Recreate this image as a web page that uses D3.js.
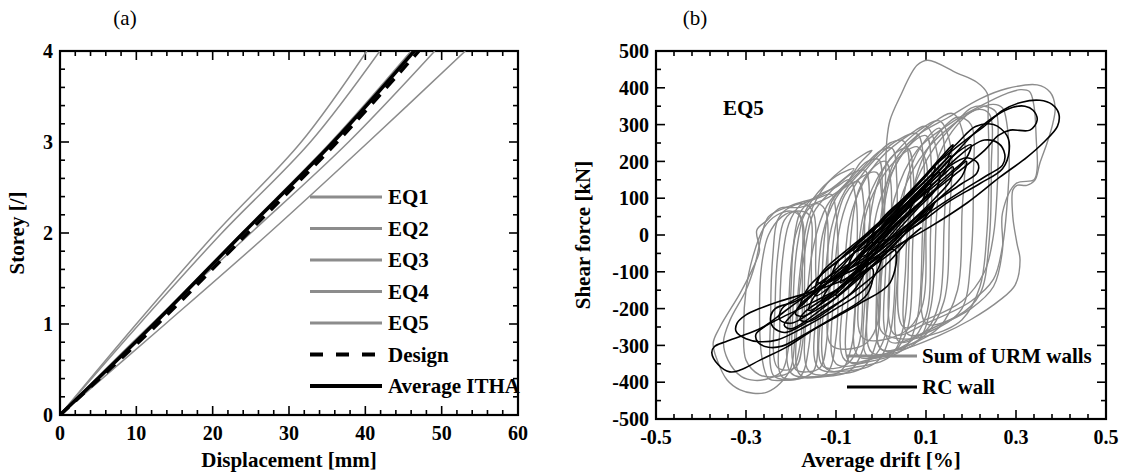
<!DOCTYPE html>
<html><head><meta charset="utf-8">
<script src="https://cdn.jsdelivr.net/npm/d3@7"></script>
<style>
body{margin:0;background:#fff}
svg{display:block}
text{font-family:"Liberation Serif","Times New Roman",serif;font-size:20px;font-weight:bold;fill:#000}
text.big{font-size:21px}
</style></head><body>
<svg id="c" width="1124" height="475"></svg>
<script>
// ---------- Panel (a) data ----------
const storeys = [0, 1, 2, 3, 4];
const eq1 = [0, 10.0, 20.4, 31.6, 40.2];
const eq2 = [0, 10.4, 21.2, 32.8, 41.9];
const eq3 = [0, 12.1, 23.8, 35.5, 46.0];
const eq4 = [0, 12.0, 25.0, 37.8, 49.1];
const eq5 = [0, 13.8, 27.4, 40.4, 53.1];
const design = [0, 12.8, 24.6, 36.3, 47.0];
const averageItha = [0, 12.3, 24.0, 35.8, 46.4];
const legendA = ["EQ1", "EQ2", "EQ3", "EQ4", "EQ5", "Design", "Average ITHA"];
const xTicksA = [0, 10, 20, 30, 40, 50, 60];
const yTicksA = [0, 1, 2, 3, 4];

// ---------- Panel (b) data: [drift %, shear kN] ----------
const urmOuterLeft = [[-0.02,230],[-0.047,195],[-0.062,167],[-0.084,130],[-0.129,95],[-0.18,75],[-0.224,73],[-0.253,40],[-0.276,13],[-0.27,-42],[-0.284,-88],[-0.313,-158],[-0.358,-250],[-0.373,-294],[-0.364,-340],[-0.342,-394],[-0.313,-421],[-0.284,-430],[-0.253,-427],[-0.224,-403],[-0.2,-360],[-0.19,-250],[-0.18,-100],[-0.16,50],[-0.12,140],[-0.05,210]];
const urmLeft2 = [[-0.06,180],[-0.13,110],[-0.2,80],[-0.25,50],[-0.265,0],[-0.28,-80],[-0.3,-150],[-0.335,-230],[-0.35,-290],[-0.34,-340],[-0.31,-385],[-0.28,-395],[-0.25,-390],[-0.22,-370],[-0.205,-300],[-0.2,-150],[-0.19,0],[-0.15,100],[-0.1,160]];
const urmLeft3 = [[-0.27,-380],[-0.3,-340],[-0.305,-250],[-0.3,-150],[-0.285,-60],[-0.26,20],[-0.23,55],[-0.2,65],[-0.18,50],[-0.175,-100],[-0.18,-300],[-0.2,-370],[-0.24,-385]];
const urmLeft4 = [[-0.25,-390],[-0.265,-330],[-0.27,-200],[-0.265,-80],[-0.25,0],[-0.22,50],[-0.19,65],[-0.16,55],[-0.155,-80],[-0.16,-300],[-0.18,-385],[-0.22,-395]];
const urmTall1 = [[-0.24,-380],[-0.245,-200],[-0.24,-50],[-0.23,40],[-0.21,70],[-0.17,85],[-0.15,60],[-0.145,-100],[-0.14,-250],[-0.15,-370],[-0.18,-390],[-0.22,-392]];
const urmTall2 = [[-0.22,-385],[-0.225,-250],[-0.22,-80],[-0.205,30],[-0.18,80],[-0.14,100],[-0.11,110],[-0.1,60],[-0.095,-100],[-0.1,-280],[-0.12,-375],[-0.17,-388]];
const urmTall3 = [[-0.2,-375],[-0.205,-200],[-0.195,-30],[-0.18,60],[-0.15,100],[-0.1,130],[-0.07,150],[-0.055,90],[-0.055,-100],[-0.065,-300],[-0.09,-370],[-0.15,-385]];
const urmTall4 = [[-0.18,-380],[-0.185,-220],[-0.17,-50],[-0.15,60],[-0.11,120],[-0.06,170],[-0.035,175],[-0.025,80],[-0.03,-120],[-0.04,-310],[-0.07,-370],[-0.13,-385]];
const urmTall5 = [[-0.16,-370],[-0.165,-200],[-0.15,-30],[-0.12,80],[-0.07,150],[-0.03,200],[-0.005,205],[0.003,120],[0.0,-80],[-0.01,-290],[-0.04,-360],[-0.1,-378]];
const urmTall6 = [[-0.14,-360],[-0.142,-180],[-0.13,0],[-0.1,100],[-0.05,170],[0.0,230],[0.025,235],[0.035,150],[0.033,-50],[0.02,-270],[-0.01,-345],[-0.08,-370]];
const urmTall7 = [[-0.12,-365],[-0.125,-150],[-0.11,20],[-0.08,120],[-0.03,190],[0.02,250],[0.05,255],[0.065,170],[0.062,-30],[0.05,-250],[0.02,-330],[-0.06,-360]];
const urmTall8 = [[-0.1,-350],[-0.105,-160],[-0.09,30],[-0.06,130],[-0.01,210],[0.04,260],[0.08,275],[0.095,200],[0.092,0],[0.08,-230],[0.05,-310],[-0.03,-345]];
const urmTall9 = [[-0.08,-340],[-0.082,-140],[-0.07,40],[-0.04,140],[0.0,210],[0.06,270],[0.1,295],[0.125,220],[0.122,20],[0.11,-200],[0.08,-290],[0.0,-330]];
const urmTall10 = [[-0.05,-330],[-0.055,-150],[-0.04,50],[-0.01,150],[0.03,220],[0.08,280],[0.13,310],[0.155,240],[0.152,50],[0.14,-180],[0.1,-270],[0.03,-315]];
const urmTall11 = [[-0.02,-320],[-0.025,-120],[-0.01,60],[0.02,160],[0.06,240],[0.11,300],[0.16,330],[0.185,260],[0.18,60],[0.17,-150],[0.13,-250],[0.06,-300]];
const urmTall12 = [[-0.19,-365],[-0.195,-180],[-0.185,-20],[-0.17,55],[-0.145,85],[-0.125,70],[-0.118,-80],[-0.12,-280],[-0.135,-360],[-0.165,-372]];
const urmTall13 = [[-0.13,-355],[-0.132,-180],[-0.125,0],[-0.11,90],[-0.08,130],[-0.05,145],[-0.038,80],[-0.04,-120],[-0.05,-300],[-0.08,-355]];
const urmTall14 = [[-0.07,-345],[-0.072,-150],[-0.065,20],[-0.05,120],[-0.02,180],[0.01,200],[0.022,140],[0.02,-60],[0.01,-270],[-0.02,-335]];
const urmTall15 = [[-0.03,-330],[-0.033,-130],[-0.025,40],[-0.005,150],[0.03,220],[0.06,235],[0.072,160],[0.07,-40],[0.06,-250],[0.03,-315]];
const urmTall16 = [[0.0,-310],[-0.003,-100],[0.005,60],[0.025,170],[0.06,240],[0.1,270],[0.112,190],[0.11,0],[0.1,-220],[0.06,-295]];
const urmTall17 = [[0.04,-290],[0.037,-100],[0.045,60],[0.065,180],[0.1,260],[0.13,290],[0.143,210],[0.14,20],[0.13,-180],[0.1,-260]];
const urmTall18 = [[-0.23,-360],[-0.235,-180],[-0.228,-40],[-0.215,40],[-0.19,65],[-0.175,40],[-0.17,-120],[-0.175,-300],[-0.19,-360]];
const urmTall19 = [[-0.11,-300],[-0.112,-120],[-0.1,30],[-0.08,110],[-0.04,160],[-0.01,170],[0.002,100],[0.0,-80],[-0.01,-250],[-0.04,-300]];
const urmTall20 = [[-0.04,-280],[-0.045,-100],[-0.035,50],[-0.01,130],[0.03,200],[0.08,240],[0.1,200],[0.1,20],[0.09,-200],[0.05,-265]];
const urmTall21 = [[0.06,-270],[0.055,-80],[0.065,80],[0.09,200],[0.13,280],[0.17,320],[0.2,300],[0.205,150],[0.2,-60],[0.18,-200],[0.13,-250]];
const urmTall22 = [[0.1,-240],[0.095,-60],[0.105,100],[0.13,220],[0.17,300],[0.21,340],[0.24,330],[0.245,180],[0.24,-20],[0.22,-160],[0.17,-220]];
const urmPeak = [[0.0,-260],[0.005,-50],[0.01,150],[0.013,258],[0.02,312],[0.042,375],[0.08,461],[0.104,475],[0.169,440],[0.213,415],[0.236,385],[0.238,320],[0.24,180],[0.235,0],[0.22,-140],[0.18,-230],[0.1,-275],[0.03,-280]];
const urmRightOuter = [[0.0,-310],[-0.01,-150],[0.0,50],[0.03,200],[0.08,270],[0.15,320],[0.22,370],[0.28,398],[0.347,408],[0.376,388],[0.387,347],[0.382,304],[0.369,250],[0.353,195],[0.342,149],[0.324,135],[0.302,135],[0.293,122],[0.293,49],[0.302,-22],[0.309,-68],[0.298,-136],[0.264,-177],[0.198,-231],[0.131,-272],[0.042,-312]];
const urmRight2 = [[0.02,-290],[0.01,-100],[0.03,100],[0.08,230],[0.15,300],[0.22,350],[0.28,385],[0.31,395],[0.33,390],[0.34,350],[0.345,260],[0.347,180],[0.34,150],[0.3,140],[0.27,60],[0.27,-40],[0.25,-140],[0.2,-200],[0.12,-250]];
const urmRight3 = [[0.03,-270],[0.02,-80],[0.05,120],[0.1,230],[0.16,300],[0.21,340],[0.25,355],[0.27,345],[0.28,300],[0.285,200],[0.28,80],[0.27,-30],[0.25,-120],[0.2,-180],[0.1,-240]];
const urmRight4 = [[0.05,-250],[0.04,-60],[0.07,120],[0.12,240],[0.17,310],[0.2,345],[0.23,350],[0.255,335],[0.26,250],[0.258,120],[0.25,0],[0.23,-100],[0.18,-180],[0.1,-230]];

const rcRight1 = [[-0.05,-90],[0.0,40],[0.06,110],[0.13,200],[0.19,260],[0.227,293],[0.271,339],[0.313,361],[0.353,366],[0.38,355],[0.395,330],[0.392,295],[0.36,250],[0.324,211],[0.264,157],[0.191,87],[0.109,22],[0.03,-33]];
const rcRight2 = [[-0.03,-60],[0.04,60],[0.1,140],[0.16,215],[0.21,280],[0.25,320],[0.293,347],[0.32,350],[0.338,339],[0.347,312],[0.331,285],[0.287,285],[0.26,270],[0.23,230],[0.17,170],[0.1,100],[0.03,20]];
const rcRight3 = [[-0.04,-70],[0.03,40],[0.1,130],[0.16,200],[0.2,240],[0.23,258],[0.26,250],[0.275,220],[0.27,190],[0.24,165],[0.18,120],[0.1,55],[0.02,-20]];
const rcRight4 = [[-0.03,-50],[0.04,50],[0.1,130],[0.15,185],[0.19,210],[0.215,195],[0.213,168],[0.18,140],[0.12,90],[0.05,20]];
const rcRight5 = [[-0.02,-20],[0.05,90],[0.12,190],[0.17,250],[0.21,295],[0.25,300],[0.28,270],[0.285,230],[0.27,180],[0.22,140],[0.15,90],[0.07,20]];
const rcLeft1 = [[0.03,-40],[-0.062,-95],[-0.12,-131],[-0.18,-177],[-0.231,-223],[-0.262,-250],[-0.3,-270],[-0.345,-290],[-0.37,-303],[-0.376,-320],[-0.362,-352],[-0.336,-372],[-0.313,-367],[-0.269,-340],[-0.209,-304],[-0.151,-258],[-0.084,-212],[-0.047,-186],[0.02,-130]];
const rcLeft2 = [[0.0,-60],[-0.08,-120],[-0.17,-160],[-0.225,-180],[-0.27,-200],[-0.3,-217],[-0.32,-240],[-0.322,-262],[-0.3,-282],[-0.27,-290],[-0.23,-285],[-0.17,-250],[-0.1,-200],[-0.03,-140]];
const rcLeft3 = [[-0.02,-90],[-0.1,-150],[-0.18,-200],[-0.23,-230],[-0.26,-250],[-0.278,-270],[-0.273,-292],[-0.25,-305],[-0.22,-302],[-0.17,-270],[-0.1,-220],[-0.03,-160]];
const rcLeft4 = [[-0.03,-70],[-0.12,-130],[-0.19,-180],[-0.235,-200],[-0.245,-220],[-0.24,-250],[-0.215,-265],[-0.19,-255],[-0.13,-210],[-0.06,-150]];
const rcLeft5 = [[-0.02,-50],[-0.1,-100],[-0.17,-160],[-0.22,-200],[-0.225,-230],[-0.2,-240],[-0.16,-215],[-0.09,-160]];
const rcMid1 = [[-0.15,-170],[-0.1,-110],[-0.05,-60],[0.0,0],[0.05,60],[0.1,120],[0.14,165],[0.16,185],[0.155,150],[0.12,100],[0.07,40],[0.02,-20],[-0.03,-70],[-0.08,-130],[-0.13,-185],[-0.16,-205]];
const rcMid2 = [[-0.12,-150],[-0.06,-70],[0.0,10],[0.06,90],[0.11,150],[0.13,170],[0.125,130],[0.08,70],[0.02,-10],[-0.04,-85],[-0.1,-160],[-0.13,-180]];
const rcMid3 = [[-0.18,-190],[-0.12,-130],[-0.06,-70],[0.0,-10],[0.06,60],[0.12,125],[0.17,180],[0.19,200],[0.18,160],[0.13,100],[0.06,20],[0.0,-50],[-0.06,-110],[-0.12,-170],[-0.17,-220],[-0.19,-215]];
const rcMid4 = [[-0.08,-100],[-0.03,-30],[0.02,30],[0.07,90],[0.1,125],[0.09,90],[0.05,40],[0.0,-30],[-0.05,-90],[-0.09,-130]];
const rcMid5 = [[-0.1,-80],[-0.05,-20],[0.0,30],[0.05,80],[0.09,120],[0.11,140],[0.1,105],[0.05,50],[0.0,-5],[-0.06,-70],[-0.11,-125]];
const rcMid6 = [[-0.14,-120],[-0.08,-55],[-0.02,10],[0.04,80],[0.1,150],[0.14,200],[0.155,215],[0.14,170],[0.09,110],[0.03,35],[-0.03,-40],[-0.09,-115],[-0.145,-165]];
const rcMid7 = [[-0.06,-50],[-0.02,0],[0.03,50],[0.06,85],[0.075,105],[0.065,70],[0.03,25],[-0.01,-30],[-0.05,-85],[-0.075,-100]];
const rcMid8 = [[-0.16,-140],[-0.1,-75],[-0.04,-20],[0.02,40],[0.08,110],[0.13,175],[0.17,225],[0.2,245],[0.19,210],[0.15,165],[0.1,115],[0.04,55],[-0.02,-5],[-0.08,-70],[-0.13,-130],[-0.18,-195]];
const rcMid9 = [[-0.2,-220],[-0.13,-140],[-0.07,-90],[0.0,-30],[0.05,15],[0.1,70],[0.08,40],[0.02,-40],[-0.05,-120],[-0.12,-190],[-0.2,-255],[-0.215,-245]];
const rcMid10 = [[-0.09,-140],[-0.04,-90],[0.01,-40],[0.06,20],[0.1,60],[0.12,90],[0.1,50],[0.05,0],[0.0,-60],[-0.05,-115],[-0.1,-165]];
const rcMid11 = [[-0.13,-100],[-0.07,-35],[-0.01,25],[0.05,95],[0.1,160],[0.12,185],[0.11,150],[0.06,90],[0.0,20],[-0.06,-50],[-0.12,-125],[-0.14,-130]];
const rcMid12 = [[-0.17,-210],[-0.11,-160],[-0.05,-110],[0.01,-60],[0.06,-10],[0.09,20],[0.07,0],[0.02,-70],[-0.04,-135],[-0.1,-190],[-0.16,-235],[-0.18,-230]];
const rcMid13 = [[-0.05,-20],[0.0,40],[0.05,100],[0.1,165],[0.14,220],[0.16,245],[0.15,215],[0.11,160],[0.06,100],[0.01,35],[-0.04,-35],[-0.06,-45]];

const urmLoops = [urmOuterLeft, urmLeft2, urmLeft3, urmLeft4, urmTall1, urmTall2, urmTall3, urmTall4, urmTall5, urmTall6, urmTall7, urmTall8, urmTall9, urmTall10, urmTall11, urmTall12, urmTall13, urmTall14, urmTall15, urmTall16, urmTall17, urmTall18, urmTall19, urmTall20, urmTall21, urmTall22, urmPeak, urmRightOuter, urmRight2, urmRight3, urmRight4];
const rcLoops = [rcRight1, rcRight2, rcRight3, rcRight4, rcRight5, rcLeft1, rcLeft2, rcLeft3, rcLeft4, rcLeft5, rcMid1, rcMid2, rcMid3, rcMid4, rcMid5, rcMid6, rcMid7, rcMid8, rcMid9, rcMid10, rcMid11, rcMid12, rcMid13];
const legendB = ["Sum of URM walls", "RC wall"];
const xTicksB = [-0.5, -0.3, -0.1, 0.1, 0.3, 0.5];
const yTicksB = [-500, -400, -300, -200, -100, 0, 100, 200, 300, 400, 500];

// ---------- drawing ----------
const svg = d3.select("#c");
const GREY = "#8c8c8c";

function frame(g, x, y, xMaj, xMin, yMaj, yMin, xFmt, yFmt) {
  const [x0, x1] = x.range(), [y0, y1] = y.range();
  const w = x1 - x0, h = y0 - y1;
  const ticks = g.append("g").attr("stroke", "#000").attr("stroke-width", 1.6);
  const H = [...xMaj.map(v => [v, 9]), ...xMin.map(v => [v, 5])];
  const V = [...yMaj.map(v => [v, 9]), ...yMin.map(v => [v, 5])];
  ticks.selectAll(".tb").data(H).join("line").attr("class","tb").attr("x1", d => x(d[0])).attr("x2", d => x(d[0])).attr("y1", h).attr("y2", d => h - d[1]);
  ticks.selectAll(".tt").data(H).join("line").attr("class","tt").attr("x1", d => x(d[0])).attr("x2", d => x(d[0])).attr("y1", 0).attr("y2", d => d[1]);
  ticks.selectAll(".tl").data(V).join("line").attr("class","tl").attr("y1", d => y(d[0])).attr("y2", d => y(d[0])).attr("x1", 0).attr("x2", d => d[1]);
  ticks.selectAll(".tr").data(V).join("line").attr("class","tr").attr("y1", d => y(d[0])).attr("y2", d => y(d[0])).attr("x1", w).attr("x2", d => w - d[1]);
  g.append("rect").attr("x", 0).attr("y", 0).attr("width", w).attr("height", h)
    .attr("fill", "none").attr("stroke", "#000").attr("stroke-width", 2.2);
  g.selectAll(".xl").data(xMaj).join("text").attr("class","xl")
    .attr("x", d => x(d)).attr("y", h + 25).attr("text-anchor", "middle").text(xFmt);
  g.selectAll(".yl").data(yMaj).join("text").attr("class","yl")
    .attr("x", -7).attr("y", d => y(d)).attr("dy", "0.36em").attr("text-anchor", "end").text(yFmt);
}

// Panel (a)
const gA = svg.append("g").attr("transform", "translate(60,51)");
const xA = d3.scaleLinear([0, 60], [0, 458]);
const yA = d3.scaleLinear([0, 4], [364, 0]);
frame(gA, xA, yA, xTicksA, d3.range(2, 60, 2).filter(v => v % 10), yTicksA,
      d3.range(0.2, 4, 0.2).filter(v => Math.abs(v - Math.round(v)) > 1e-6), d => d, d => d);
gA.append("clipPath").attr("id", "clipA").append("rect").attr("width", 458).attr("height", 364);
const lineA = d3.line().x(d => xA(d[0])).y(d => yA(d[1])).curve(d3.curveCatmullRom);
const plotA = gA.append("g").attr("clip-path", "url(#clipA)");
[eq1, eq2, eq3, eq4, eq5].forEach(s => {
  plotA.append("path").attr("d", lineA(s.map((v, i) => [v, storeys[i]])))
    .attr("fill", "none").attr("stroke", GREY).attr("stroke-width", 1.5);
});
plotA.append("path").attr("d", lineA(averageItha.map((v, i) => [v, storeys[i]])))
  .attr("fill", "none").attr("stroke", "#000").attr("stroke-width", 3.5);
plotA.append("path").attr("d", lineA(design.map((v, i) => [v, storeys[i]])))
  .attr("fill", "none").attr("stroke", "#000").attr("stroke-width", 3.5).attr("stroke-dasharray", "12,9");
// legend (a)
const legA = svg.append("g").attr("transform", "translate(310,197)");
legendA.forEach((name, i) => {
  const yy = i * 31.5;
  const ln = legA.append("line").attr("x1", 0).attr("x2", 72).attr("y1", yy).attr("y2", yy);
  if (i < 5) ln.attr("stroke", GREY).attr("stroke-width", 3);
  else ln.attr("stroke", "#000").attr("stroke-width", 4);
  if (i === 5) ln.attr("stroke-dasharray", "13,13");
  legA.append("text").attr("class", "big").attr("x", 78).attr("y", yy).attr("dy", "0.35em").text(name);
});
svg.append("text").attr("class", "big").attr("x", 60 + 229).attr("y", 467).attr("text-anchor", "middle").text("Displacement [mm]");
svg.append("text").attr("class", "big").attr("transform", "translate(24,233) rotate(-90)").attr("text-anchor", "middle").text("Storey [/]");
svg.append("text").attr("class", "big").attr("x", 125).attr("y", 25).attr("text-anchor", "middle").style("font-weight", "normal").text("(a)");

// Panel (b)
const gB = svg.append("g").attr("transform", "translate(656,51)");
const xB = d3.scaleLinear([-0.5, 0.5], [0, 450]);
const yB = d3.scaleLinear([-500, 500], [368, 0]);
const xMinB = d3.range(-0.46, 0.5, 0.04).filter(v => !xTicksB.some(t => Math.abs(t - v) < 1e-6));
const yMinB = d3.range(-450, 500, 100);
frame(gB, xB, yB, xTicksB, xMinB, yTicksB, yMinB, d => d, d => d);
gB.append("clipPath").attr("id", "clipB").append("rect").attr("width", 450).attr("height", 368);
const lineB = d3.line().x(d => xB(d[0])).y(d => yB(d[1])).curve(d3.curveCatmullRomClosed.alpha(0.5));
const plotB = gB.append("g").attr("clip-path", "url(#clipB)");
plotB.selectAll(".urm").data(urmLoops).join("path").attr("class","urm").attr("d", lineB)
  .attr("fill", "none").attr("stroke", GREY).attr("stroke-width", 1.4);
plotB.selectAll(".rc").data(rcLoops).join("path").attr("class","rc").attr("d", lineB)
  .attr("fill", "none").attr("stroke", "#000").attr("stroke-width", 1.6);
svg.append("text").attr("class", "big").attr("x", 723).attr("y", 115).text("EQ5");
const legB = svg.append("g").attr("transform", "translate(847,356)");
legendB.forEach((name, i) => {
  const yy = i * 31;
  legB.append("line").attr("x1", 0).attr("x2", 70).attr("y1", yy).attr("y2", yy)
    .attr("stroke", i === 0 ? GREY : "#000").attr("stroke-width", 3);
  legB.append("text").attr("class", "big").attr("x", 75).attr("y", yy).attr("dy", "0.35em").text(name);
});
svg.append("text").attr("class", "big").attr("x", 656 + 225).attr("y", 467).attr("text-anchor", "middle").text("Average drift [%]");
svg.append("text").attr("class", "big").attr("transform", "translate(590,235) rotate(-90)").attr("text-anchor", "middle").text("Shear force [kN]");
svg.append("text").attr("class", "big").attr("x", 695).attr("y", 25).attr("text-anchor", "middle").style("font-weight", "normal").text("(b)");
</script>
</body></html>
